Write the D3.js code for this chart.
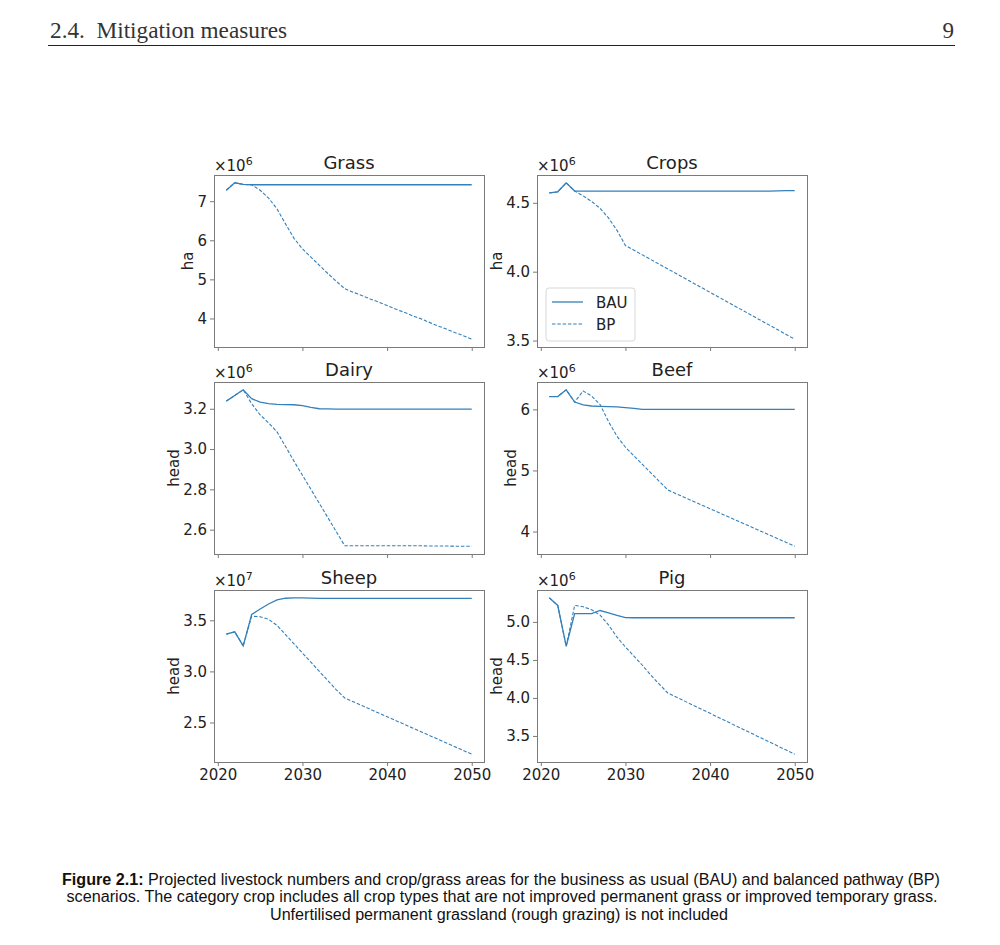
<!DOCTYPE html>
<html>
<head>
<meta charset="utf-8">
<script src="https://cdn.jsdelivr.net/npm/d3@7"></script>
<style>
  html, body { margin: 0; padding: 0; background: #fff; }
  svg { display: block; }
</style>
</head>
<body>
<svg id="chart" width="1000" height="945"></svg>
<script>
// ---------- data ----------
const years = d3.range(2021, 2051);
const panelTitles = ["Grass", "Crops", "Dairy", "Beef", "Sheep", "Pig"];
const panelUnits = ["ha", "ha", "head", "head", "head", "head"];
const panelExponents = [6, 6, 6, 6, 7, 6];
const seriesNames = ["BAU", "BP"];

const grassBAU = [7.28,7.47,7.43,7.42,7.42,7.42,7.42,7.42,7.42,7.42,7.42,7.42,7.42,7.42,7.42,7.42,7.42,7.42,7.42,7.42,7.42,7.42,7.42,7.42,7.42,7.42,7.42,7.42,7.42,7.42];
const grassBP  = [7.28,7.47,7.43,7.42,7.28,7.08,6.80,6.42,6.05,5.78,5.57,5.36,5.15,4.95,4.76,4.67,4.59,4.50,4.42,4.33,4.24,4.16,4.07,3.99,3.90,3.81,3.73,3.64,3.56,3.47];

const cropsBAU = [4.572,4.580,4.645,4.585,4.585,4.585,4.585,4.585,4.585,4.585,4.585,4.585,4.585,4.585,4.585,4.585,4.585,4.585,4.585,4.585,4.585,4.585,4.585,4.585,4.585,4.585,4.585,4.586,4.588,4.588];
const cropsBP  = [4.572,4.580,4.645,4.585,4.550,4.510,4.460,4.390,4.300,4.190,4.156,4.122,4.088,4.054,4.020,3.986,3.952,3.918,3.884,3.850,3.816,3.782,3.748,3.714,3.680,3.646,3.612,3.578,3.544,3.510];

const dairyBAU = [3.238,3.266,3.294,3.250,3.233,3.225,3.222,3.221,3.220,3.216,3.207,3.200,3.199,3.198,3.198,3.198,3.198,3.198,3.198,3.198,3.198,3.198,3.198,3.198,3.198,3.198,3.198,3.198,3.198,3.198];
const dairyBP  = [3.238,3.266,3.294,3.225,3.170,3.130,3.085,3.013,2.940,2.870,2.800,2.730,2.660,2.590,2.520,2.520,2.520,2.520,2.520,2.520,2.520,2.520,2.520,2.520,2.519,2.519,2.519,2.518,2.518,2.518];

const beefBAU = [6.21,6.21,6.32,6.12,6.075,6.055,6.05,6.045,6.04,6.03,6.015,6.00,6.00,6.00,6.00,6.00,6.00,6.00,6.00,6.00,6.00,6.00,6.00,6.00,6.00,6.00,6.00,6.00,6.00,6.00];
const beefBP  = [6.21,6.21,6.32,6.12,6.30,6.22,6.08,5.80,5.56,5.38,5.24,5.10,4.96,4.82,4.68,4.619,4.557,4.496,4.435,4.373,4.312,4.251,4.189,4.128,4.067,4.005,3.944,3.883,3.821,3.76];

const sheepBAU = [3.365,3.387,3.250,3.558,3.610,3.660,3.700,3.716,3.720,3.720,3.717,3.715,3.715,3.715,3.715,3.715,3.715,3.715,3.715,3.715,3.715,3.715,3.715,3.715,3.715,3.715,3.715,3.715,3.714,3.714];
const sheepBP  = [3.365,3.387,3.250,3.540,3.535,3.510,3.450,3.360,3.270,3.180,3.090,3.000,2.910,2.820,2.740,2.703,2.667,2.630,2.593,2.557,2.520,2.483,2.447,2.410,2.373,2.337,2.300,2.263,2.227,2.190];

const pigBAU = [5.317,5.217,4.680,5.110,5.110,5.110,5.150,5.120,5.087,5.057,5.055,5.055,5.055,5.055,5.055,5.055,5.055,5.055,5.055,5.055,5.055,5.055,5.055,5.055,5.055,5.055,5.055,5.055,5.055,5.055];
const pigBP  = [5.317,5.217,4.680,5.217,5.200,5.160,5.090,4.960,4.800,4.670,4.550,4.430,4.300,4.180,4.065,4.011,3.958,3.904,3.850,3.797,3.743,3.689,3.636,3.582,3.528,3.475,3.421,3.367,3.314,3.260];

const xTicks = [2020, 2030, 2040, 2050];
const grassTicks = [4, 5, 6, 7];
const cropsTicks = [3.5, 4.0, 4.5];
const dairyTicks = [2.6, 2.8, 3.0, 3.2];
const beefTicks = [4, 5, 6];
const sheepTicks = [2.5, 3.0, 3.5];
const pigTicks = [3.5, 4.0, 4.5, 5.0];

const panelBAU = [grassBAU, cropsBAU, dairyBAU, beefBAU, sheepBAU, pigBAU];
const panelBP = [grassBP, cropsBP, dairyBP, beefBP, sheepBP, pigBP];
const panelTicks = [grassTicks, cropsTicks, dairyTicks, beefTicks, sheepTicks, pigTicks];
const panelTickFormats = ["d", ".1f", ".1f", "d", ".1f", ".1f"];

const headerText = "2.4.  Mitigation measures";
const pageNumber = "9";
const captionBold = "Figure 2.1:";
const captionLines = [
  " Projected livestock numbers and crop/grass areas for the business as usual (BAU) and balanced pathway (BP)",
  "scenarios.  The category crop includes all crop types that are not improved permanent grass or improved temporary grass.",
  "Unfertilised permanent grassland (rough grazing) is not included"
];

// ---------- layout ----------
const svg = d3.select("#chart");
const lineColor = "#3380bb";
const frameColor = "#7a7a7a";
const tickFont = "'DejaVu Sans', sans-serif";
const colLeft = [214, 537];
const rowTop = [175, 382, 590];
const pw = 270, ph = 172;

// header
svg.append("text")
  .attr("x", 50).attr("y", 38)
  .attr("font-family", "'Liberation Serif', 'DejaVu Serif', serif")
  .attr("font-size", 23).attr("fill", "#333")
  .attr("xml:space", "preserve")
  .attr("textLength", 237).attr("lengthAdjust", "spacingAndGlyphs")
  .text(headerText);
svg.append("text")
  .attr("x", 954).attr("y", 38).attr("text-anchor", "end")
  .attr("font-family", "'Liberation Serif', 'DejaVu Serif', serif")
  .attr("font-size", 23).attr("fill", "#333")
  .text(pageNumber);
svg.append("line")
  .attr("x1", 48).attr("x2", 955).attr("y1", 45.5).attr("y2", 45.5)
  .attr("stroke", "#222").attr("stroke-width", 1);

const x = d3.scaleLinear()
  .domain([years[0] - 0.05 * (years[years.length - 1] - years[0]), years[years.length - 1] + 0.05 * (years[years.length - 1] - years[0])])
  .range([0, pw]);

panelTitles.forEach((title, i) => {
  const col = i % 2, row = Math.floor(i / 2);
  const left = colLeft[col], top = rowTop[row];
  const g = svg.append("g").attr("transform", `translate(${left},${top})`);
  const all = panelBAU[i].concat(panelBP[i]);
  const [mn, mx] = d3.extent(all);
  const pad = 0.05 * (mx - mn);
  const y = d3.scaleLinear().domain([mn - pad, mx + pad]).range([ph, 0]);

  // y axis
  const ya = g.append("g")
    .call(d3.axisLeft(y).tickValues(panelTicks[i]).tickFormat(d3.format(panelTickFormats[i])).tickSize(4).tickPadding(3).tickSizeOuter(0));
  ya.select(".domain").remove();
  ya.selectAll("line").attr("stroke", frameColor);
  ya.selectAll("text").attr("font-family", tickFont).attr("font-size", 15).attr("fill", "#222");

  // x axis
  const xa = g.append("g").attr("transform", `translate(0,${ph})`)
    .call(d3.axisBottom(x).tickValues(xTicks).tickFormat(d3.format("d")).tickSize(4).tickPadding(3).tickSizeOuter(0));
  xa.select(".domain").remove();
  xa.selectAll("line").attr("stroke", frameColor);
  xa.selectAll("text").attr("font-family", tickFont).attr("font-size", 15).attr("fill", "#222");
  if (row < 2) xa.selectAll("text").remove();

  // frame
  g.append("rect").attr("x", 0.5).attr("y", 0.5).attr("width", pw).attr("height", ph)
    .attr("fill", "none").attr("stroke", frameColor).attr("stroke-width", 1);

  // lines
  const line = d3.line().x((d, k) => x(years[k])).y(d => y(d));
  g.append("path").datum(panelBP[i]).attr("d", line)
    .attr("fill", "none").attr("stroke", lineColor).attr("stroke-width", 1.1)
    .attr("stroke-dasharray", "3.5,1.8");
  g.append("path").datum(panelBAU[i]).attr("d", line)
    .attr("fill", "none").attr("stroke", lineColor).attr("stroke-width", 1.3);

  // title
  g.append("text").attr("x", pw / 2).attr("y", -6).attr("text-anchor", "middle")
    .attr("font-family", tickFont).attr("font-size", 18).attr("fill", "#222").text(title);

  // offset text
  const ot = g.append("text").attr("x", 0).attr("y", -4)
    .attr("font-family", tickFont).attr("font-size", 15).attr("fill", "#222");
  ot.append("tspan").text("\u00d710");
  ot.append("tspan").attr("font-size", 11).attr("dy", -6).text(String(panelExponents[i]));

  // y label, placed left of the tick labels
  const tickNode = ya.node().getBBox();
  const labelRight = tickNode.x - 4;
  g.append("text")
    .attr("transform", `translate(${labelRight},${ph / 2}) rotate(-90)`)
    .attr("text-anchor", "middle")
    .attr("font-family", tickFont).attr("font-size", 15).attr("fill", "#222")
    .text(panelUnits[i]);

  // legend in Crops panel
  if (title === "Crops") {
    const lg = g.append("g").attr("transform", `translate(${9},${113})`);
    lg.append("rect").attr("x", 0).attr("y", 0).attr("width", 89).attr("height", 53)
      .attr("rx", 3).attr("fill", "#fff").attr("stroke", "#d8d8d8");
    seriesNames.forEach((s, k) => {
      const yy = 14 + k * 22;
      lg.append("line").attr("x1", 6).attr("x2", 37).attr("y1", yy).attr("y2", yy)
        .attr("stroke", lineColor).attr("stroke-width", k === 0 ? 1.3 : 1.1)
        .attr("stroke-dasharray", k === 0 ? null : "3.5,1.8");
      lg.append("text").attr("x", 50).attr("y", yy + 5.5)
        .attr("font-family", tickFont).attr("font-size", 15).attr("fill", "#222").text(s);
    });
  }
});

// caption
const capFont = "'Liberation Sans', Arial, sans-serif";
const c1 = svg.append("text").attr("x", 501).attr("y", 885).attr("text-anchor", "middle")
  .attr("font-family", capFont).attr("font-size", 16).attr("fill", "#111")
  .attr("textLength", 878).attr("lengthAdjust", "spacingAndGlyphs");
c1.append("tspan").attr("font-weight", "bold").text(captionBold);
c1.append("tspan").text(captionLines[0]);
svg.append("text").attr("x", 502).attr("y", 902).attr("text-anchor", "middle")
  .attr("font-family", capFont).attr("font-size", 16).attr("fill", "#111")
  .attr("textLength", 871).attr("lengthAdjust", "spacingAndGlyphs")
  .text(captionLines[1]);
svg.append("text").attr("x", 499).attr("y", 920).attr("text-anchor", "middle")
  .attr("font-family", capFont).attr("font-size", 16).attr("fill", "#111")
  .attr("textLength", 458).attr("lengthAdjust", "spacingAndGlyphs")
  .text(captionLines[2]);
</script>
</body>
</html>
